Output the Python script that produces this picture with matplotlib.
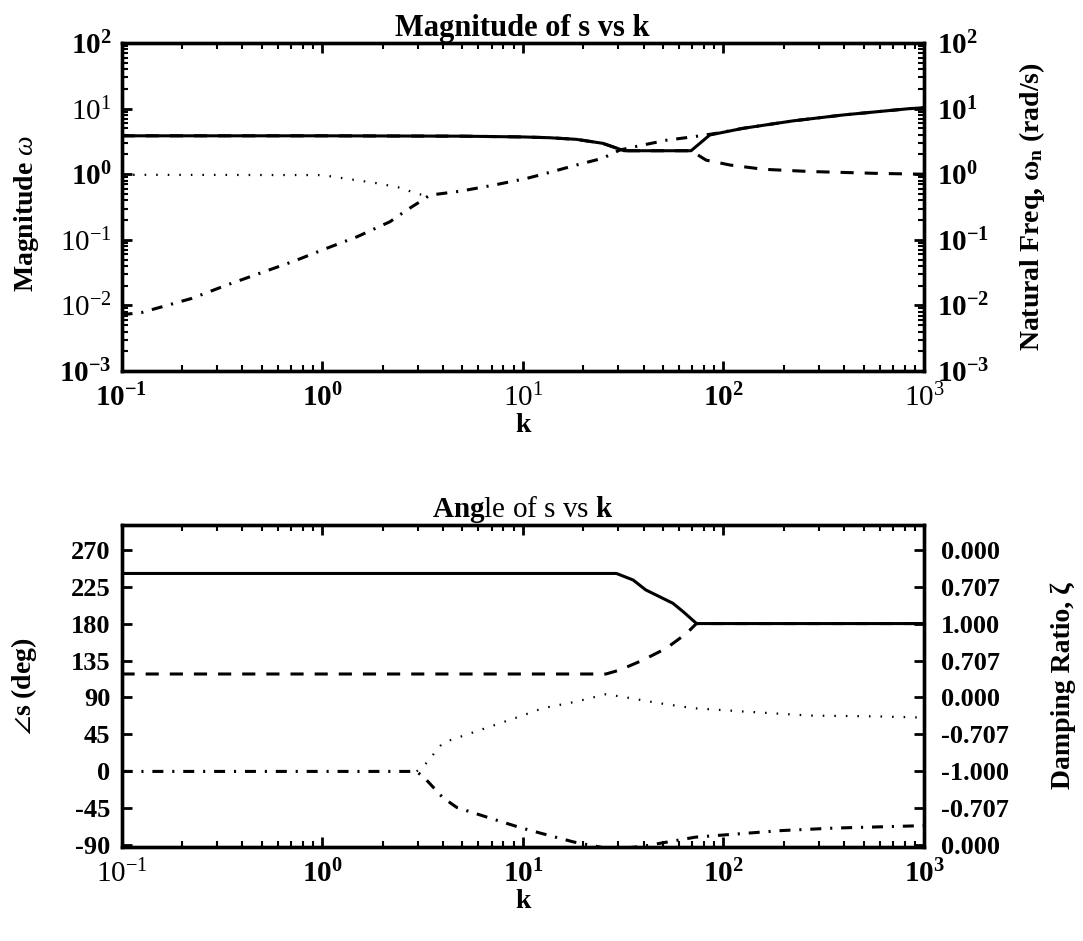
import matplotlib
matplotlib.use("Agg")
import matplotlib.pyplot as plt
from matplotlib.ticker import LogLocator, NullFormatter

plt.rcParams['font.family'] = ['Liberation Serif', 'DejaVu Serif']
plt.rcParams['mathtext.fontset'] = 'custom'
plt.rcParams['mathtext.rm'] = 'Liberation Serif'
plt.rcParams['mathtext.bf'] = 'Liberation Serif:bold'
plt.rcParams['mathtext.it'] = 'Liberation Serif:italic'

# --- magnitude of the roots vs k ---
k_mag_solid = [0.1, 1, 5, 10, 13.6, 18.5, 25, 30.5, 32, 69, 85.5, 125, 222, 395, 849, 1000]
mag_solid = [3.85, 3.85, 3.8, 3.7, 3.6, 3.4, 2.96, 2.4, 2.28, 2.28, 3.96, 5.0, 6.5, 8.0, 10.0, 10.3]

k_mag_dash = [0.1, 1, 5, 10, 13.6, 18.5, 25, 30.5, 32, 69, 82, 108, 158, 269, 580, 1000]
mag_dash = [3.85, 3.85, 3.8, 3.7, 3.6, 3.4, 2.96, 2.4, 2.28, 2.28, 1.64, 1.38, 1.19, 1.10, 1.03, 1.0]

k_mag_dot = [0.1, 1.0, 1.27, 1.87, 2.54, 2.85, 3.2]
mag_dot = [0.98, 0.97, 0.87, 0.73, 0.61, 0.52, 0.48]

k_mag_dashdot = [0.1, 0.126, 0.224, 0.334, 0.49, 0.72, 1.05, 1.49, 2.18, 2.64, 3.07, 3.44,
                 4.86, 7.13, 10.4, 12.6, 18.5, 25, 30.5, 39.8, 52, 70.7, 92, 125, 222, 395, 849, 1000]
mag_dashdot = [0.0072, 0.0078, 0.0128, 0.0204, 0.031, 0.047, 0.074, 0.111, 0.189, 0.284, 0.38, 0.48,
               0.55, 0.68, 0.86, 1.0, 1.38, 1.75, 2.34, 2.79, 3.3, 3.72, 4.2, 5.0, 6.5, 8.0, 10.0, 10.3]

# --- angle of the roots vs k (deg) ---
k_ang_solid = [0.1, 29.3, 35.5, 41, 56, 63, 73.5, 1000]
ang_solid = [241, 241, 233, 221, 204.7, 194.5, 180, 180]

k_ang_dash = [0.1, 26, 30.5, 39.8, 52, 65.5, 72, 73.5, 1000]
ang_dash = [118.6, 118.6, 123.5, 135.6, 150, 168, 178, 180, 180]

k_ang_dot = [2.96, 3.3, 4.0, 5.9, 9.7, 12.6, 18.5, 26, 32.9, 48, 70.6, 125, 269, 580, 1000]
ang_dot = [0, 10, 35, 49, 67, 77, 85, 94, 90, 83, 77, 73, 68, 67, 65.5]

k_ang_dashdot = [0.1, 2.96, 3.3, 4.0, 4.7, 6.7, 9.6, 12.2, 18, 28, 40, 72.6, 195, 355, 1000]
ang_dashdot = [0, 0, -10, -32, -44, -56, -68, -75, -86, -95, -91, -80, -72, -69, -66]

# tick labels
k_ticks = [0.1, 1, 10, 100, 1000]
k_exp = [-1, 0, 1, 2, 3]
top_x_bold = [True, True, False, True, False]
bot_x_bold = [False, True, True, True, True]
mag_ticks = [1e2, 1e1, 1e0, 1e-1, 1e-2, 1e-3]
mag_exp = [2, 1, 0, -1, -2, -3]
mag_left_bold = [True, False, True, False, False, True]
deg_ticks = [270, 225, 180, 135, 90, 45, 0, -45, -90]
deg_labels = ['270', '225', '180', '135', '90', '45', '0', '-45', '-90']
zeta_labels = ['0.000', '0.707', '1.000', '0.707', '0.000', '-0.707', '-1.000', '-0.707', '0.000']


def pow10(e, bold):
    if bold:
        return r'$\mathbf{10}^{\mathbf{%d}}$' % e
    return r'$\mathrm{10}^{\mathrm{%d}}$' % e


LS_DASH = (0, (4.3, 3.6))
LS_DOT = (0, (0.7, 4.5))
LS_DASHDOT = (0, (3.6, 2.9, 0.7, 2.9))


def style_axes(ax):
    for s in ax.spines.values():
        s.set_linewidth(2.4)
    ax.tick_params(which='major', direction='in', length=7, width=2)
    ax.tick_params(which='minor', direction='in', length=4, width=1.5)


fig = plt.figure(figsize=(10.83, 9.41), dpi=100)

# ---------------- top: magnitude ----------------
ax1 = fig.add_axes([0.1122, 0.6057, 0.741, 0.3486])
ax1.plot(k_mag_solid, mag_solid, color='black', lw=2.2, ls='-')
ax1.plot(k_mag_dash, mag_dash, color='black', lw=2.2, ls=LS_DASH)
ax1.plot(k_mag_dot, mag_dot, color='black', lw=1.6, ls=LS_DOT)
ax1.plot(k_mag_dashdot, mag_dashdot, color='black', lw=2.2, ls=LS_DASHDOT)
ax1.set_xscale('log')
ax1.set_yscale('log')
ax1.set_xlim(0.1, 1000)
ax1.set_ylim(1e-3, 1e2)
ax1.set_xticks(k_ticks)
ax1.set_xticklabels([pow10(e, b) for e, b in zip(k_exp, top_x_bold)])
ax1.set_yticks(mag_ticks)
ax1.set_yticklabels([pow10(e, b) for e, b in zip(mag_exp, mag_left_bold)])
ax1.xaxis.set_minor_locator(LogLocator(base=10, subs=range(2, 10), numticks=20))
ax1.yaxis.set_minor_locator(LogLocator(base=10, subs=range(2, 10), numticks=20))
ax1.xaxis.set_minor_formatter(NullFormatter())
ax1.yaxis.set_minor_formatter(NullFormatter())
style_axes(ax1)
ax1.tick_params(which='both', top=True, right=False)
ax1.tick_params(axis='both', labelsize=21)
ax1.tick_params(axis='x', pad=9)
ax1.tick_params(axis='y', pad=7)
ax1.set_title('Magnitude of s vs k', fontsize=22, fontweight='bold', pad=4)
ax1.set_xlabel('k', fontsize=20, fontweight='bold', labelpad=1)
ax1.set_ylabel(r'Magnitude $\omega$', fontsize=20, fontweight='bold', va='center')
ax1.yaxis.set_label_coords(-0.119, 0.48)

ax1r = ax1.twinx()
ax1r.set_yscale('log')
ax1r.set_ylim(1e-3, 1e2)
ax1r.set_yticks(mag_ticks)
ax1r.set_yticklabels([pow10(e, True) for e in mag_exp])
ax1r.yaxis.set_minor_locator(LogLocator(base=10, subs=range(2, 10), numticks=20))
ax1r.yaxis.set_minor_formatter(NullFormatter())
style_axes(ax1r)
ax1r.tick_params(axis='y', labelsize=21, pad=9)
ax1r.set_ylabel(r'Natural Freq, $\mathbf{\omega_n}$ (rad/s)', fontsize=20, fontweight='bold', va='center')
ax1r.yaxis.set_label_coords(1.1346, 0.5)

# ---------------- bottom: angle ----------------
ax2 = fig.add_axes([0.1122, 0.0999, 0.741, 0.3422])
ax2.plot(k_ang_solid, ang_solid, color='black', lw=2.2, ls='-')
ax2.plot(k_ang_dash, ang_dash, color='black', lw=2.2, ls=LS_DASH)
ax2.plot(k_ang_dot, ang_dot, color='black', lw=1.6, ls=LS_DOT)
ax2.plot(k_ang_dashdot, ang_dashdot, color='black', lw=2.2, ls=LS_DASHDOT)
ax2.set_xscale('log')
ax2.set_xlim(0.1, 1000)
ax2.set_ylim(-92, 300)
ax2.set_xticks(k_ticks)
ax2.set_xticklabels([pow10(e, b) for e, b in zip(k_exp, bot_x_bold)])
ax2.xaxis.set_minor_locator(LogLocator(base=10, subs=range(2, 10), numticks=20))
ax2.xaxis.set_minor_formatter(NullFormatter())
ax2.set_yticks(deg_ticks)
ax2.set_yticklabels(deg_labels, fontweight='bold')
style_axes(ax2)
ax2.tick_params(which='both', top=True, right=False)
ax2.tick_params(axis='x', labelsize=21, pad=9)
ax2.tick_params(axis='y', labelsize=19, pad=8)
ax2.set_title(r'$\mathbf{Ang}$le of s vs $\mathbf{k}$', fontsize=21, pad=5)
ax2.set_xlabel('k', fontsize=20, fontweight='bold', labelpad=1)
ax2.set_ylabel(r'$\angle$s (deg)', fontsize=20, fontweight='bold', va='center')
ax2.yaxis.set_label_coords(-0.1215, 0.5)

ax2r = ax2.twinx()
ax2r.set_ylim(-92, 300)
ax2r.set_yticks(deg_ticks)
ax2r.set_yticklabels(zeta_labels, fontweight='bold')
style_axes(ax2r)
ax2r.tick_params(axis='y', labelsize=19, pad=12)
ax2r.set_ylabel('Damping Ratio, ζ', fontsize=20, fontweight='bold', va='center')
ax2r.yaxis.set_label_coords(1.173, 0.5)

fig.savefig('out.png', dpi=100)
